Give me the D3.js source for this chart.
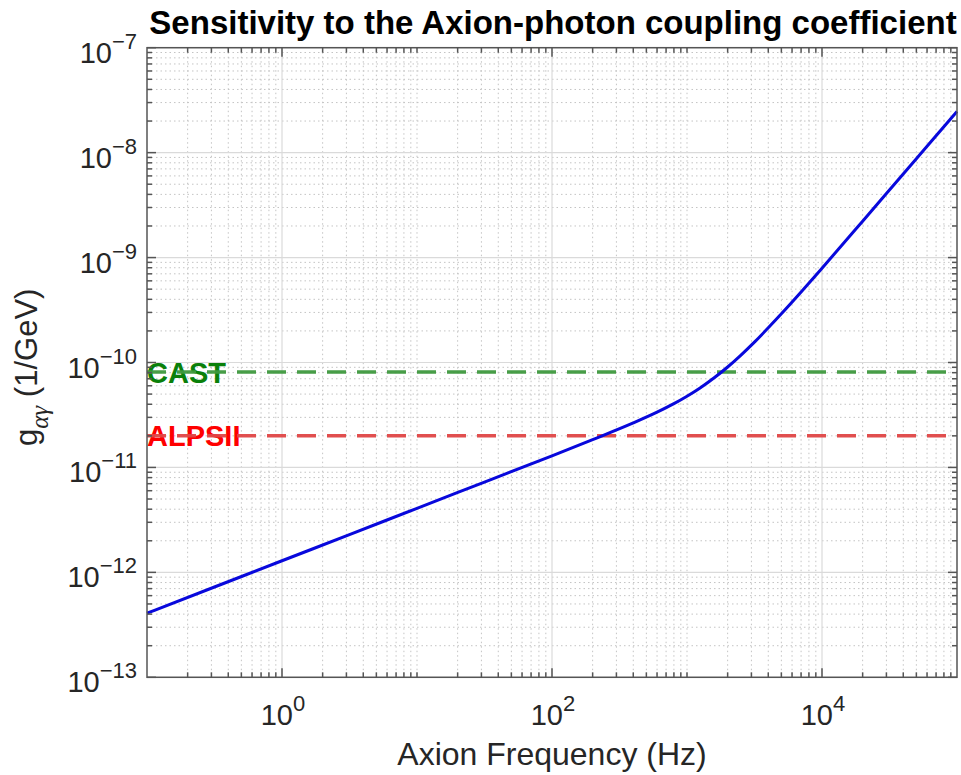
<!DOCTYPE html>
<html>
<head>
<meta charset="utf-8">
<script src="https://cdn.jsdelivr.net/npm/d3@7"></script>
<style>
  html, body { margin: 0; padding: 0; background: #fff; }
  svg { display: block; font-family: "Liberation Sans", Arial, Helvetica, sans-serif; }
</style>
</head>
<body>
<svg id="chart" width="961" height="775"></svg>
<script>
// ---------- data ----------
const freqHz = [0.1, 0.316, 1, 3.16, 10, 31.6, 100, 200, 400, 600, 800, 1000, 1250, 1600, 2000, 2500, 3200, 4000, 5000, 7000, 1e4, 2e4, 3e4, 5e4, 7e4, 1e5];
const gAgamma = [4.08e-13, 7.25e-13, 1.29e-12, 2.29e-12, 4.08e-12, 7.25e-12, 1.29e-11, 1.84e-11, 2.655e-11, 3.36e-11, 4.05e-11, 4.77e-11, 5.72e-11, 7.19e-11, 9.06e-11, 1.171e-10, 1.59e-10, 2.14e-10, 2.91e-10, 4.7e-10, 7.92e-10, 2.22e-9, 4.07e-9, 8.75e-9, 1.45e-8, 2.47e-8];

const limitNames = ["CAST", "ALPSII"];
const limitValues = [8.1e-11, 2.0e-11];
const limitTextColors = ["#0a800a", "#ff0000"];
const limitLineColors = ["#3f993f", "#e04646"];

const xDomain = [0.1, 1e5];
const yDomain = [1e-13, 1e-7];
const xTickExponents = [0, 2, 4];
const yTickExponents = [-13, -12, -11, -10, -9, -8, -7];

const titleText = "Sensitivity to the Axion-photon coupling coefficient";
const xLabelText = "Axion Frequency (Hz)";

// ---------- layout ----------
const L = 147, R = 957, T = 47.7, B = 677.3;
const svg = d3.select("#chart");
const x = d3.scaleLog().domain(xDomain).range([L, R]);
const y = d3.scaleLog().domain(yDomain).range([B, T]);

const minorVals = (lo, hi) => {
  const out = [];
  for (let e = Math.floor(Math.log10(lo)); e <= Math.ceil(Math.log10(hi)); e++) {
    for (let m = 1; m <= 9; m++) {
      const v = m * Math.pow(10, e);
      if (v > lo * 1.0001 && v < hi * 0.9999) out.push(v);
    }
  }
  return out;
};
const xMajor = xTickExponents.map(e => Math.pow(10, e));
const yMajor = yTickExponents.map(e => Math.pow(10, e));
const isMajorX = v => xMajor.some(m => Math.abs(Math.log10(v) - Math.log10(m)) < 1e-6);
const isMajorY = v => yMajor.some(m => Math.abs(Math.log10(v) - Math.log10(m)) < 1e-6);
const xMinor = minorVals(xDomain[0], xDomain[1]).filter(v => !isMajorX(v));
const yMinor = minorVals(yDomain[0], yDomain[1]).filter(v => !isMajorY(v));

// ---------- grid ----------
const grid = svg.append("g");
grid.selectAll(".xmg").data(xMinor).join("line")
  .attr("x1", d => x(d)).attr("x2", d => x(d)).attr("y1", T).attr("y2", B)
  .attr("stroke", "#c4c4c4").attr("stroke-width", 1).attr("stroke-dasharray", "1.5,3");
grid.selectAll(".ymg").data(yMinor).join("line")
  .attr("y1", d => y(d)).attr("y2", d => y(d)).attr("x1", L).attr("x2", R)
  .attr("stroke", "#c4c4c4").attr("stroke-width", 1).attr("stroke-dasharray", "1.5,3");
grid.selectAll(".xMg").data(xMajor).join("line")
  .attr("x1", d => x(d)).attr("x2", d => x(d)).attr("y1", T).attr("y2", B)
  .attr("stroke", "#dadada").attr("stroke-width", 1.2);
grid.selectAll(".yMg").data(yMajor).join("line")
  .attr("y1", d => y(d)).attr("y2", d => y(d)).attr("x1", L).attr("x2", R)
  .attr("stroke", "#dadada").attr("stroke-width", 1.2);

// ---------- limit labels and dashed lines ----------
const limG = svg.append("g");
limitNames.forEach((name, i) => {
  const yy = y(limitValues[i]);
  limG.append("text").attr("x", L).attr("y", yy + 10.5)
    .attr("font-size", 29).attr("font-weight", "bold")
    .attr("fill", limitTextColors[i]).text(name);
  limG.append("line").attr("x1", L).attr("x2", R).attr("y1", yy).attr("y2", yy)
    .attr("stroke", limitLineColors[i]).attr("stroke-width", 3.5)
    .attr("stroke-dasharray", "19,11").attr("opacity", 0.95);
});

// ---------- curve ----------
const pts = freqHz.map((f, i) => [f, gAgamma[i]]);
svg.append("path").datum(pts)
  .attr("d", d3.line().x(d => x(d[0])).y(d => y(d[1])).curve(d3.curveMonotoneX))
  .attr("fill", "none").attr("stroke", "#0808dc").attr("stroke-width", 3);

// ---------- axes box and ticks ----------
const ax = svg.append("g").attr("stroke", "#555").attr("stroke-width", 1.5);
ax.append("rect").attr("x", L).attr("y", T).attr("width", R - L).attr("height", B - T).attr("fill", "none");
const tickLine = (x1, y1, x2, y2) => ax.append("line").attr("x1", x1).attr("y1", y1).attr("x2", x2).attr("y2", y2);
xMajor.forEach(v => { const xx = x(v); tickLine(xx, B, xx, B - 9); tickLine(xx, T, xx, T + 9); });
xMinor.forEach(v => { const xx = x(v); tickLine(xx, B, xx, B - 5); tickLine(xx, T, xx, T + 5); });
yMajor.forEach(v => { const yy = y(v); tickLine(L, yy, L + 9, yy); tickLine(R, yy, R - 9, yy); });
yMinor.forEach(v => { const yy = y(v); tickLine(L, yy, L + 5, yy); tickLine(R, yy, R - 5, yy); });

// ---------- tick labels ----------
const tl = svg.append("g").attr("fill", "#262626");
xTickExponents.forEach(e => {
  const t = tl.append("text").attr("x", x(Math.pow(10, e)) + 1).attr("y", 725)
    .attr("text-anchor", "middle").attr("font-size", 29);
  t.append("tspan").text("10");
  t.append("tspan").attr("dy", -14).attr("font-size", 22).text(String(e));
});
yTickExponents.forEach(e => {
  const t = tl.append("text").attr("x", 137).attr("y", y(Math.pow(10, e)) + 15)
    .attr("text-anchor", "end").attr("font-size", 29);
  t.append("tspan").text("10");
  t.append("tspan").attr("dy", -14).attr("font-size", 22).text("\u2212" + String(-e));
});

// ---------- labels ----------
svg.append("text").attr("x", (L + R) / 2 + 1).attr("y", 34).attr("text-anchor", "middle")
  .attr("font-size", 33).attr("font-weight", "bold").attr("fill", "#000").text(titleText);
svg.append("text").attr("x", (L + R) / 2).attr("y", 765).attr("text-anchor", "middle")
  .attr("font-size", 32).attr("fill", "#262626").text(xLabelText);

const yl = svg.append("text").attr("transform", "translate(37,446) rotate(-90)")
  .attr("text-anchor", "start").attr("font-size", 31).attr("fill", "#262626");
yl.append("tspan").text("g");
yl.append("tspan").attr("dy", 11).attr("font-size", 25).attr("font-style", "italic")
  .attr("font-family", "'Liberation Serif', 'DejaVu Serif', serif").text("\u03b1\u03b3");
yl.append("tspan").attr("dy", -11).text(" (1/GeV)");
</script>
</body>
</html>
